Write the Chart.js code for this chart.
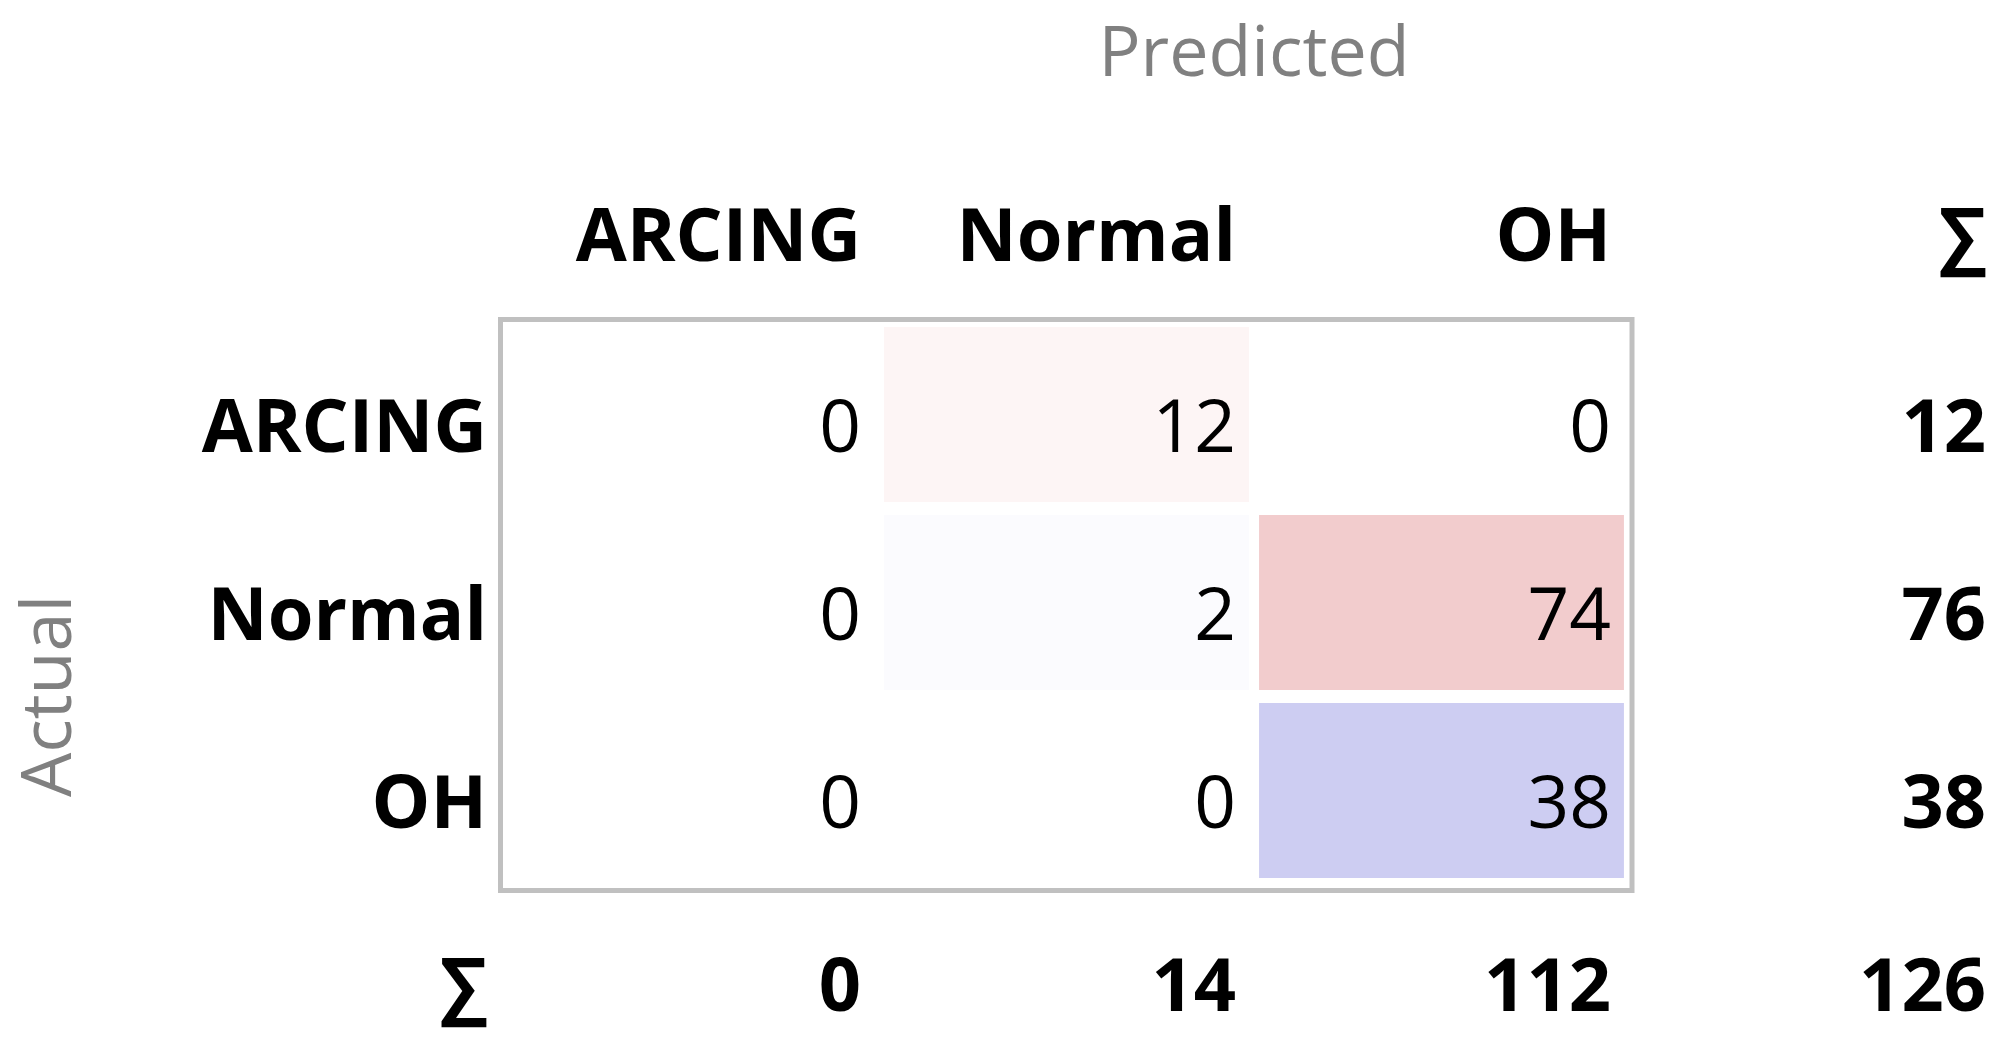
<!DOCTYPE html>
<html>
<head>
<meta charset="utf-8">
<script src="https://cdn.jsdelivr.net/npm/chart.js@4.4.0/dist/chart.umd.min.js"></script>
<style>
  html, body { margin: 0; padding: 0; background: #fff; }
  #wrap { width: 2008px; height: 1048px; }
</style>
</head>
<body>
<div id="wrap"><canvas id="matrixChart"></canvas></div>
<script>
// Confusion matrix - rows are actual, columns are predicted
const classes = ['ARCING', 'Normal', 'OH'];
const sumLabel = '∑';
const rowArcing = [0, 12, 0];
const rowNormal = [0, 2, 74];
const rowOH = [0, 0, 38];
const rowTotals = [12, 76, 38];
const colTotals = [0, 14, 112];
const grandTotal = 126;

const matrix = [rowArcing, rowNormal, rowOH];

// cell shading (red = misclassified, blue = correct)
const cellColors = [
  ['rgba(0,0,0,0)', '#fdf5f5', 'rgba(0,0,0,0)'],
  ['rgba(0,0,0,0)', '#fbfbfe', '#f2cccd'],
  ['rgba(0,0,0,0)', 'rgba(0,0,0,0)', '#cdcdf2']
];

const BOLD = 'bold 74px "Open Sans", "DejaVu Sans", sans-serif';
const REG = '73px "Open Sans", "DejaVu Sans", sans-serif';
const TITLE = '70px "Open Sans", "DejaVu Sans", sans-serif';

// one dataset per actual row, each cell is a floating bar spanning its row
const datasets = matrix.map((row, r) => ({
  label: classes[r],
  data: row.map(() => [r, r + 1]).concat([null]),
  backgroundColor: cellColors[r],
  borderColor: '#ffffff',
  borderWidth: { top: 7, bottom: 6, left: 0, right: 0 },
  borderSkipped: false,
  grouped: false,
  barPercentage: 0.973,
  categoryPercentage: 1
}));

function put(ctx, s, x, y, font, color, align) {
  ctx.font = font;
  ctx.fillStyle = color;
  ctx.textAlign = align;
  ctx.textBaseline = 'alphabetic';
  ctx.fillText(s, x, y);
}

const tableText = {
  id: 'tableText',
  afterDatasetsDraw(chart) {
    const ctx = chart.ctx;
    const xs = chart.scales.x;
    const ys = chart.scales.y;
    const half = (xs.getPixelForValue(1) - xs.getPixelForValue(0)) / 2;
    const colRight = c => xs.getPixelForValue(c) + half - 18;
    const rowBase = r => ys.getPixelForValue(r + 0.5) + 37.5;
    ctx.save();

    // frame round the 3x3 block
    ctx.strokeStyle = '#c0c0c0';
    ctx.lineWidth = 5;
    const fx0 = xs.left - 3.5;
    const fx1 = xs.getPixelForValue(2) + half + 3;
    const fy0 = ys.getPixelForValue(0) - 0.5;
    const fy1 = ys.getPixelForValue(3) + 6.5;
    ctx.strokeRect(fx0, fy0, fx1 - fx0, fy1 - fy0);

    // column headers
    const headY = ys.getPixelForValue(0) - 59;
    classes.concat([sumLabel]).forEach((lab, c) => {
      put(ctx, lab, colRight(c), headY, BOLD, '#000', 'right');
    });

    // row labels
    const labX = xs.left - 17;
    classes.forEach((lab, r) => put(ctx, lab, labX, rowBase(r), BOLD, '#000', 'right'));
    const sumY = ys.getPixelForValue(3.5) + 33;
    put(ctx, sumLabel, labX, sumY, BOLD, '#000', 'right');

    // counts
    matrix.forEach((row, r) => {
      row.forEach((v, c) => put(ctx, String(v), colRight(c), rowBase(r), REG, '#000', 'right'));
      put(ctx, String(rowTotals[r]), colRight(3), rowBase(r), BOLD, '#000', 'right');
    });
    colTotals.forEach((v, c) => put(ctx, String(v), colRight(c), sumY, BOLD, '#000', 'right'));
    put(ctx, String(grandTotal), colRight(3), sumY, BOLD, '#000', 'right');

    // axis titles
    put(ctx, 'Predicted', (xs.left + xs.right) / 2, ys.getPixelForValue(0) - 244, TITLE, '#808080', 'center');
    ctx.translate(71, (ys.getPixelForValue(0) + ys.getPixelForValue(4)) / 2);
    ctx.rotate(-Math.PI / 2);
    put(ctx, 'Actual', 0, 0, TITLE, '#808080', 'center');
    ctx.restore();
  }
};

new Chart(document.getElementById('matrixChart'), {
  type: 'bar',
  data: {
    labels: classes.concat([sumLabel]),
    datasets: datasets
  },
  options: {
    responsive: true,
    maintainAspectRatio: false,
    animation: false,
    layout: { padding: { left: 504, right: 4, top: 320, bottom: 164 } },
    scales: {
      x: { type: 'category', display: false, offset: true },
      y: { type: 'linear', display: false, min: 0, max: 3, reverse: true }
    },
    plugins: {
      legend: { display: false },
      tooltip: { enabled: false }
    },
    events: []
  },
  plugins: [tableText]
});
</script>
</body>
</html>
